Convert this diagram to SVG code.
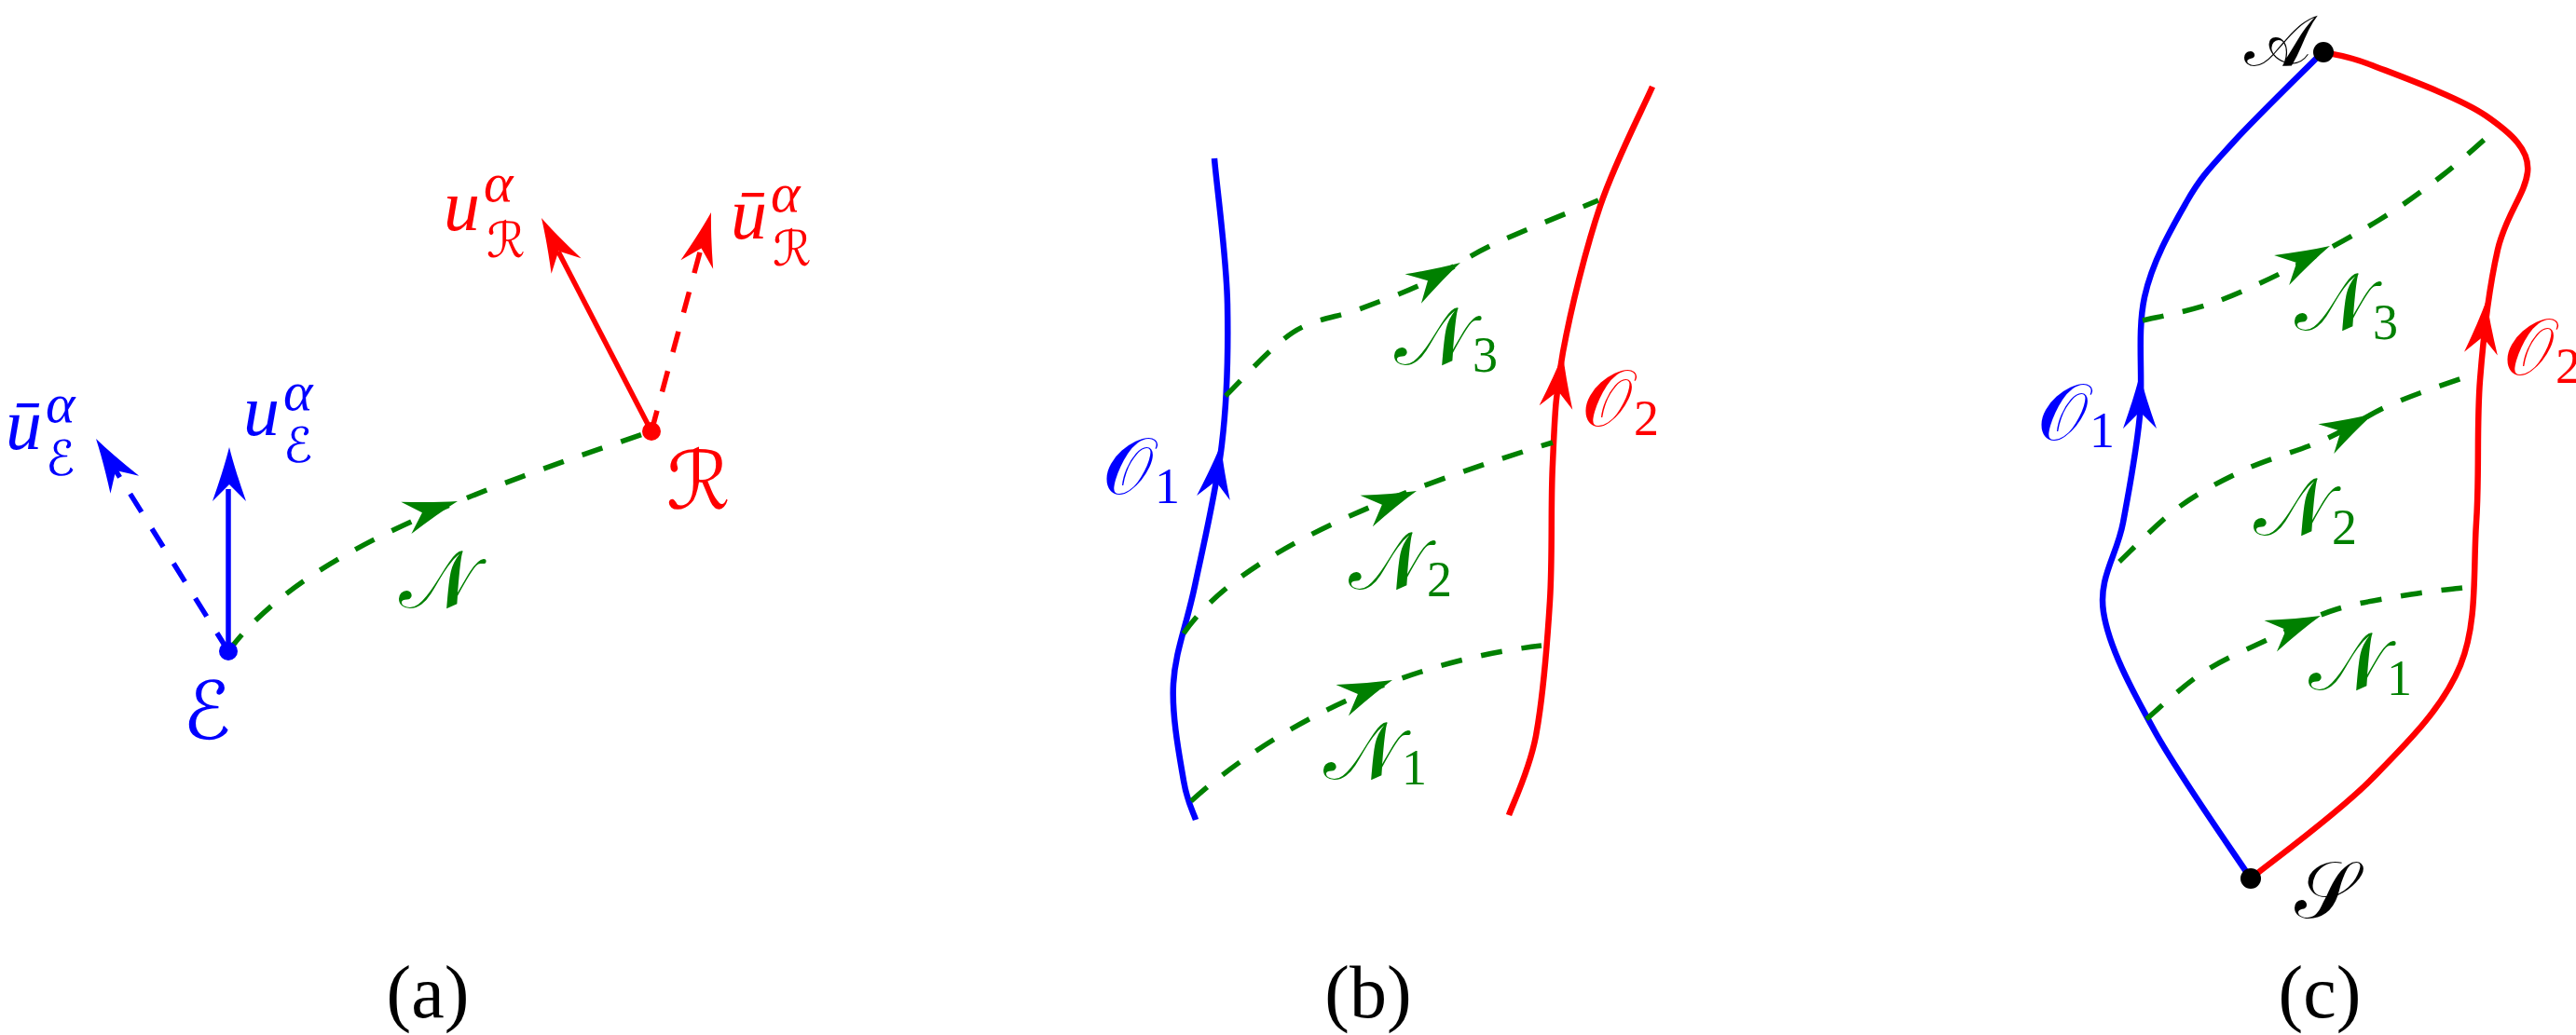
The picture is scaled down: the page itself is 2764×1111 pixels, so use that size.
<svg xmlns="http://www.w3.org/2000/svg" xmlns:xlink="http://www.w3.org/1999/xlink" width="2764" height="1111" viewBox="0 0 2764 1111">
<style>
.bl{stroke:#0000ff;fill:none}
.rd{stroke:#ff0000;fill:none}
.gr{stroke:#008000;fill:none;stroke-width:5.5;stroke-dasharray:23 21}
.vec{stroke-width:5.5}
.wl{stroke-width:6.5}
.dash{stroke-dasharray:23 21}
.it{font-family:"Liberation Serif","DejaVu Serif","Times New Roman",serif;font-style:italic;font-size:78px}
.sup{font-family:"Liberation Serif","DejaVu Serif","Times New Roman",serif;font-style:italic;font-size:60px}
.cal{font-family:"DejaVu Serif","DejaVu Sans","Noto Sans",serif;font-size:86px}
.calsub{font-family:"DejaVu Serif","DejaVu Sans","Noto Sans",serif;font-size:52px}
.num{font-family:"Liberation Serif","DejaVu Serif","Times New Roman",serif;font-size:54px;font-style:normal}
.cap{font-family:"Liberation Serif","DejaVu Serif","Times New Roman",serif;font-size:80px;text-anchor:middle}
</style>
<defs>
<path id="ah" d="M0,0 Q-24,-6 -58,-18 L-40,0 L-58,18 Q-24,6 0,0 Z"/>
</defs>

<!-- ============ Panel (a) ============ -->
<g id="connectors-a">
<path class="gr" d="M245,699 C320,600 470,540 699,463"/>
<path class="bl vec" d="M245,699 L245,525"/>
<path class="bl vec dash" d="M245,699 L124,505"/>
<path class="rd vec" d="M699,463 L599,270"/>
<path class="rd vec dash" d="M699,463 L752,267"/>
<use xlink:href="#ah" href="#ah" fill="#0000ff" transform="translate(246,480) rotate(-90)"/>
<use xlink:href="#ah" href="#ah" fill="#0000ff" transform="translate(103,471) rotate(-122)"/>
<use xlink:href="#ah" href="#ah" fill="#ff0000" transform="translate(581,234) rotate(-117.3)"/>
<use xlink:href="#ah" href="#ah" fill="#ff0000" transform="translate(763,228) rotate(-74.8)"/>
<use xlink:href="#ah" href="#ah" fill="#008000" transform="translate(491,538) rotate(-18)"/>
</g>
<g id="node-E">
<circle cx="245" cy="699" r="10" fill="#0000ff"/>
<text class="cal" x="196" y="793" fill="#0000ff">ℰ</text>
</g>
<g id="node-R">
<circle cx="699" cy="463" r="10" fill="#ff0000"/>
<text class="cal" x="715" y="546" fill="#ff0000">ℛ</text>
</g>
<g id="label-N" fill="#008000"><text class="cal" x="428" y="652">𝒩</text></g>
<g id="label-ubarE" fill="#0000ff">
<text class="it" x="6" y="482">ū</text>
<text class="sup" x="49" y="453">α</text>
<text class="calsub" x="49" y="510">ℰ</text>
</g>
<g id="label-uE" fill="#0000ff">
<text class="it" x="261" y="467">u</text>
<text class="sup" x="304" y="440">α</text>
<text class="calsub" x="304" y="496">ℰ</text>
</g>
<g id="label-uR" fill="#ff0000">
<text class="it" x="476" y="247">u</text>
<text class="sup" x="519" y="216">α</text>
<text class="calsub" x="522" y="276">ℛ</text>
</g>
<g id="label-ubarR" fill="#ff0000">
<text class="it" x="784" y="256">ū</text>
<text class="sup" x="827" y="227">α</text>
<text class="calsub" x="829" y="285">ℛ</text>
</g>
<text class="cap" x="459" y="1092">(a)</text>

<!-- ============ Panel (b) ============ -->
<g id="connectors-b">
<path class="bl wl" d="M1303,170 C1305,196 1316,275 1317,326 C1318,377 1317,427 1311,477 C1305,528 1291,586 1282,629 C1273,672 1261,699 1259,734 C1257,769 1266,814 1270,838 C1274,862 1281,873 1283,880"/>
<path class="rd wl" d="M1773,93 C1764,114 1733,173.5 1717,221 C1701,268.5 1685.5,332 1677,378 C1668.5,424 1668,453.5 1666,498 C1663.7,542.5 1666,596 1663,645 C1660,693.7 1655,751.7 1648,790 C1640.7,828 1624,861 1619,875"/>
<path class="gr" d="M1278,860 C1355,790 1490,712 1654,693"/>
<path class="gr" d="M1270,680 C1315,615 1420,550 1666,475"/>
<path class="gr" d="M1315,425 C1327,413.7 1363.2,372.5 1387,357 C1410.8,341.5 1434.2,341 1458,332 C1481.8,323 1506.2,314.5 1530,303 C1553.8,291.5 1570.2,277.7 1601,263 C1631.8,248.3 1696,223 1715,215"/>
<use xlink:href="#ah" href="#ah" fill="#0000ff" transform="translate(1310,477) rotate(-82)"/>
<use xlink:href="#ah" href="#ah" fill="#ff0000" transform="translate(1677,380) rotate(-82.5)"/>
<use xlink:href="#ah" href="#ah" fill="#008000" transform="translate(1494,730) rotate(-22)"/>
<use xlink:href="#ah" href="#ah" fill="#008000" transform="translate(1520,527) rotate(-21.8)"/>
<use xlink:href="#ah" href="#ah" fill="#008000" transform="translate(1567,282) rotate(-28.9)"/>
</g>
<g id="label-O1b" fill="#0000ff"><text class="cal" x="1183" y="530">𝒪<tspan class="num" dx="2" dy="10">1</tspan></text></g>
<g id="label-O2b" fill="#ff0000"><text class="cal" x="1697" y="457">𝒪<tspan class="num" dx="2" dy="10">2</tspan></text></g>
<g id="label-N1b" fill="#008000"><text class="cal" x="1420" y="836">𝒩<tspan class="num" dx="2" dy="6">1</tspan></text></g>
<g id="label-N2b" fill="#008000"><text class="cal" x="1447" y="632">𝒩<tspan class="num" dx="2" dy="8">2</tspan></text></g>
<g id="label-N3b" fill="#008000"><text class="cal" x="1496" y="391">𝒩<tspan class="num" dx="2" dy="8">3</tspan></text></g>
<text class="cap" x="1468" y="1092">(b)</text>

<!-- ============ Panel (c) ============ -->
<g id="connectors-c">
<path class="bl wl" d="M2415,943 C2397.8,916.7 2338.3,832.7 2312,785 C2285.7,737.3 2262.7,694.3 2257,657 C2251.3,619.7 2271.5,596.2 2278,561 C2284.5,525.8 2292.2,486.3 2296,446 C2299.8,405.7 2292.7,357.2 2301,319 C2309.3,280.8 2330.2,244.7 2346,217 C2361.8,189.3 2371.8,179.7 2396,153 C2420.2,126.3 2475.2,73 2491,57"/>
<path class="rd wl" d="M2415,943 C2436.7,925.2 2507.5,874.2 2545,836 C2582.5,797.8 2621.3,759.8 2640,714 C2658.7,668.2 2653.5,612 2657,561 C2660.5,510 2657.2,456.8 2661,408 C2664.8,359.2 2671.5,305.2 2680,268 C2688.5,230.8 2709.2,209 2712,185 C2714.8,161 2694.8,143.2 2667,124 C2639.2,104.8 2574,81.3 2545,70 C2516,58.7 2501.7,58.3 2493,56"/>
<path class="gr" d="M2303,772 C2313.3,763.5 2342,735.8 2365,721 C2388,706.2 2417.3,694.2 2441,683 C2464.7,671.8 2482.7,661.5 2507,654 C2531.3,646.5 2564.5,641.8 2587,638 C2609.5,634.2 2632.8,632.2 2642,631"/>
<path class="gr" d="M2274,603 C2284.5,593.3 2314.5,561.5 2337,545 C2359.5,528.5 2382.8,516.2 2409,504 C2435.2,491.8 2467.8,483.7 2494,472 C2520.2,460.3 2539.5,445.7 2566,434 C2592.5,422.3 2638.5,407.3 2653,402"/>
<path class="gr" d="M2299,344 C2311.7,340.8 2348.2,334.5 2375,325 C2401.8,315.5 2430.3,301.8 2460,287 C2489.7,272.2 2526.2,252.5 2553,236 C2579.8,219.5 2599.8,204.5 2621,188 C2642.2,171.5 2670.2,145.5 2680,137"/>
<use xlink:href="#ah" href="#ah" fill="#0000ff" transform="translate(2296,402) rotate(-90)"/>
<use xlink:href="#ah" href="#ah" fill="#ff0000" transform="translate(2668,322) rotate(-84)"/>
<use xlink:href="#ah" href="#ah" fill="#008000" transform="translate(2490,661) rotate(-22)"/>
<use xlink:href="#ah" href="#ah" fill="#008000" transform="translate(2547,444) rotate(-28)"/>
<use xlink:href="#ah" href="#ah" fill="#008000" transform="translate(2500,264) rotate(-26.6)"/>
</g>
<g id="node-A">
<circle cx="2493" cy="56" r="11" fill="#000"/>
<text class="cal" x="2408" y="70" fill="#000" style="font-size:76px">𝒜</text>
</g>
<g id="node-S">
<circle cx="2415" cy="943" r="11" fill="#000"/>
<text class="cal" x="2462" y="985" fill="#000">𝒮</text>
</g>
<g id="label-O1c" fill="#0000ff"><text class="cal" x="2186" y="472">𝒪<tspan class="num" dx="2" dy="8">1</tspan></text></g>
<g id="label-O2c" fill="#ff0000"><text class="cal" x="2686" y="402">𝒪<tspan class="num" dx="2" dy="9">2</tspan></text></g>
<g id="label-N1c" fill="#008000"><text class="cal" x="2477" y="740">𝒩<tspan class="num" dx="2" dy="6">1</tspan></text></g>
<g id="label-N2c" fill="#008000"><text class="cal" x="2418" y="574">𝒩<tspan class="num" dx="2" dy="10">2</tspan></text></g>
<g id="label-N3c" fill="#008000"><text class="cal" x="2462" y="354">𝒩<tspan class="num" dx="2" dy="10">3</tspan></text></g>
<text class="cap" x="2489" y="1092">(c)</text>
</svg>
